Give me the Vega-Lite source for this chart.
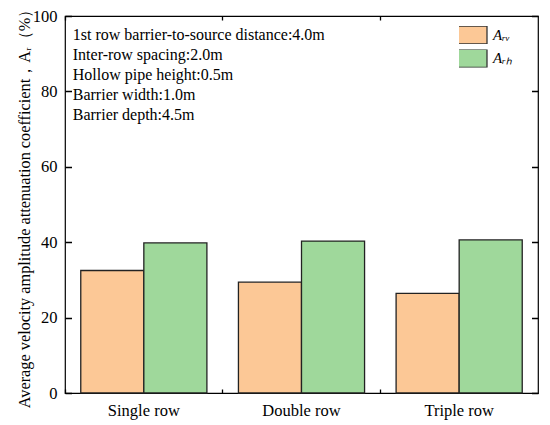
{
  "$schema": "https://vega.github.io/schema/vega-lite/v6.json",
  "width": 473,
  "height": 377,
  "autosize": "none",
  "padding": {"left": 65, "top": 16, "right": 12, "bottom": 32},
  "background": "white",
  "datasets": {
    "bars": [
      {"arrangement": "Single row", "series": "Aᵣᵥ", "value": 32.5},
      {"arrangement": "Single row", "series": "Aᵣₕ", "value": 39.8},
      {"arrangement": "Double row", "series": "Aᵣᵥ", "value": 29.4},
      {"arrangement": "Double row", "series": "Aᵣₕ", "value": 40.3},
      {"arrangement": "Triple row", "series": "Aᵣᵥ", "value": 26.4},
      {"arrangement": "Triple row", "series": "Aᵣₕ", "value": 40.6}
    ],
    "notes": [
      {"arrangement": "Single row", "y": 95.0, "note": "1st row barrier-to-source distance:4.0m"},
      {"arrangement": "Single row", "y": 89.7, "note": "Inter-row spacing:2.0m"},
      {"arrangement": "Single row", "y": 84.4, "note": "Hollow pipe height:0.5m"},
      {"arrangement": "Single row", "y": 79.1, "note": "Barrier width:1.0m"},
      {"arrangement": "Single row", "y": 73.8, "note": "Barrier depth:4.5m"}
    ]
  },
  "config": {
    "font": "Liberation Serif",
    "view": {"stroke": "black", "strokeWidth": 1.2},
    "axis": {
      "domain": false,
      "ticks": false,
      "grid": true,
      "gridColor": "black",
      "gridOpacity": 1,
      "gridWidth": 1.3,
      "zindex": 1,
      "labelColor": "black",
      "labelFont": "Liberation Serif",
      "labelFontSize": 16.5,
      "titleFont": "Liberation Serif",
      "titleFontSize": 16.3,
      "titleFontWeight": "normal",
      "titleColor": "black"
    }
  },
  "layer": [
    {
      "data": {"name": "bars"},
      "mark": {"type": "bar", "stroke": "#222222", "strokeWidth": 1.3},
      "encoding": {
        "x": {
          "field": "arrangement",
          "type": "nominal",
          "sort": ["Single row", "Double row", "Triple row"],
          "scale": {"domain": ["Single row", "Double row", "Triple row"], "paddingInner": 0.2, "paddingOuter": 0.1},
          "axis": {
            "orient": "bottom",
            "title": null,
            "labelAngle": 0,
            "bandPosition": -0.125,
            "gridDash": [4, 369, 4, 0],
            "labelBound": false,
            "labelPadding": 9
          }
        },
        "xOffset": {
          "field": "series",
          "type": "nominal",
          "sort": ["Aᵣᵥ", "Aᵣₕ"],
          "scale": {"paddingInner": 0, "paddingOuter": 0}
        },
        "y": {
          "field": "value",
          "type": "quantitative",
          "scale": {"domain": [0, 100], "nice": false},
          "axis": {
            "orient": "left",
            "title": "Average velocity amplitude attenuation coefficient，Aᵣ（%）",
            "values": [0, 10, 20, 30, 40, 50, 60, 70, 80, 90, 100],
            "labelExpr": "datum.value % 20 === 0 ? datum.label : ''",
            "gridDash": {"condition": {"test": "datum.value % 20 !== 0", "value": [3.5, 466, 3.5, 0]}, "value": [6.5, 460, 6.5, 0]},
            "labelPadding": 8,
            "titlePadding": 0
          }
        },
        "color": {
          "field": "series",
          "type": "nominal",
          "sort": ["Aᵣᵥ", "Aᵣₕ"],
          "scale": {"domain": ["Aᵣᵥ", "Aᵣₕ"], "range": ["#fcc896", "#9fd89b"]},
          "legend": {
            "title": null,
            "orient": "none",
            "legendX": 394,
            "legendY": 10,
            "padding": 0,
            "symbolType": "M-2,-1H2V1H-2Z",
            "symbolSize": 324,
            "symbolStrokeColor": "#333333",
            "symbolStrokeWidth": 1.3,
            "symbolOpacity": 1,
            "clipHeight": 18,
            "labelFont": "Liberation Serif",
            "labelFontStyle": "italic",
            "labelFontSize": 15,
            "labelColor": "black",
            "labelOffset": 14,
            "rowPadding": 5.4
          }
        }
      }
    },
    {
      "data": {"name": "notes"},
      "mark": {"type": "text", "align": "left", "baseline": "middle", "dx": -8, "fontSize": 16, "color": "black", "font": "Liberation Serif"},
      "encoding": {
        "x": {
          "field": "arrangement",
          "type": "nominal",
          "sort": ["Single row", "Double row", "Triple row"],
          "bandPosition": 0
        },
        "y": {"field": "y", "type": "quantitative"},
        "text": {"field": "note", "type": "nominal"}
      }
    }
  ]
}
